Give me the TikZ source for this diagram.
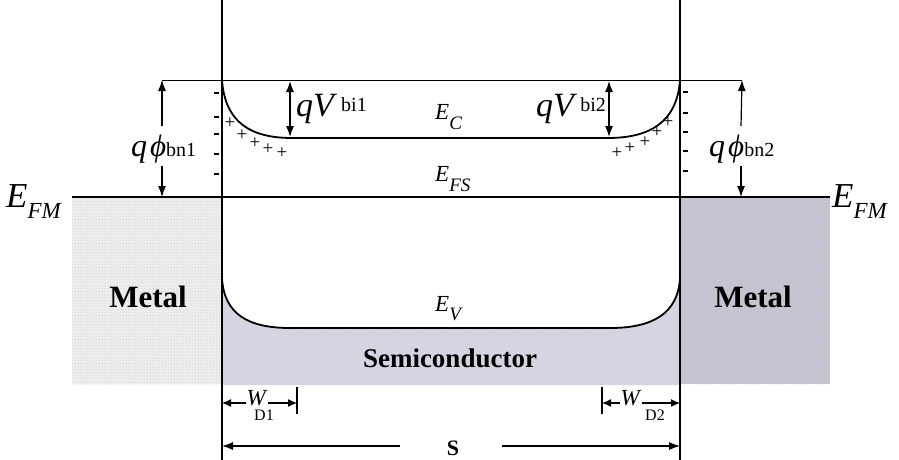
\documentclass[tikz,border=0pt]{standalone}
\usepackage{fontspec}
\setmainfont{Liberation Serif}
\usetikzlibrary{arrows.meta,patterns}
\newcommand{\fz}[1]{\fontsize{#1}{#1}\selectfont}
\definecolor{semic}{RGB}{212,212,228}
\definecolor{metr}{RGB}{196,196,212}
\definecolor{metl}{RGB}{238,238,238}
\begin{document}
\begin{tikzpicture}[x=1pt,y=-1pt,
  band/.style={line width=1.8pt},
  thin/.style={line width=0.8pt},
  arr/.style={line width=1.2pt,-{Latex[length=11pt,width=8pt]}},
  darr/.style={line width=1.2pt,{Latex[length=11pt,width=8pt]}-{Latex[length=11pt,width=8pt]}},
  warr/.style={line width=1.2pt,-{Latex[length=9pt,width=8pt]}},
  lbl/.style={inner sep=0pt},
  pm/.style={inner sep=0pt,font=\fz{19}}]
\useasboundingbox (0,0) rectangle (899,460);
% fills
\fill[metl] (72,197) rectangle (222,384);
\fill[pattern=dots,pattern color=gray!55] (72,197) rectangle (222,384);
\fill[metr] (680,197) rectangle (830,384);
\fill[pattern=crosshatch dots,pattern color=gray!45] (680,197) rectangle (830,384);
\fill[semic] (222,278) .. controls (224,314) and (248,328) .. (290,328) -- (610,328)
  .. controls (652,328) and (678,314) .. (680,278) -- (680,385) -- (222,385) -- cycle;
\fill[pattern=crosshatch dots,pattern color=gray!30] (222,278) .. controls (224,314) and (248,328) .. (290,328) -- (610,328)
  .. controls (652,328) and (678,314) .. (680,278) -- (680,385) -- (222,385) -- cycle;
% coordinates
\coordinate (L0) at (222,0); \coordinate (L1) at (222,460);
\coordinate (R0) at (680,0); \coordinate (R1) at (680,460);
\coordinate (topL) at (162,80); \coordinate (topR) at (742,80);
\coordinate (efmL) at (72,197); \coordinate (efmR) at (830,197);
% lines
\draw[thin] (topL) -- (topR);
\draw[band] (L0) -- (L1);
\draw[band] (R0) -- (R1);
\draw[band] (efmL) -- (efmR);
% E_C
\draw[band] (222,80) .. controls (225,122) and (250,138) .. (292,138) -- (608,138)
  .. controls (650,138) and (677,122) .. (680,80);
% E_V
\draw[band] (222,278) .. controls (224,314) and (248,328) .. (290,328) -- (610,328)
  .. controls (652,328) and (678,314) .. (680,278);
% band labels
\node[lbl,anchor=base west] (ec) at (435,119) {\fz{23}\textit{E}\raisebox{-10pt}{\fz{19}\textit{C}}};
\node[lbl,anchor=base west] (efs) at (435,181) {\fz{23}\textit{E}\raisebox{-10pt}{\fz{19}\textit{FS}}};
\node[lbl,anchor=base west] (ev) at (435,311) {\fz{23}\textit{E}\raisebox{-9pt}{\fz{19}\textit{V}}};
\node[lbl,anchor=base west] (efml) at (6,207) {\fz{35}\textit{E}\raisebox{-11pt}{\fz{23}\textit{FM}}};
\node[lbl,anchor=base west] (efmr) at (832,207) {\fz{35}\textit{E}\raisebox{-11pt}{\fz{23}\textit{FM}}};
% qVbi
\coordinate (vb1t) at (290,81); \coordinate (vb1b) at (290,137);
\coordinate (vb2t) at (609,81); \coordinate (vb2b) at (609,137);
\draw[darr] (vb1t) -- (vb1b);
\draw[darr] (vb2t) -- (vb2b);
\node[lbl,anchor=base west] (vbi1) at (296,116) {\fz{34}\textit{qV}\hspace{4pt}\raisebox{5pt}{\fz{20}bi1}};
\node[lbl,anchor=base east] (vbi2) at (606,116) {\fz{34}\textit{qV}\hspace{3pt}\raisebox{5pt}{\fz{20}bi2}};
% q phi bn
\node[lbl,anchor=base west] (phi1) at (131,156) {\fz{32}\textit{q}\hspace{3pt}\fz{31}\textit{ϕ}\fz{20}bn1};
\node[lbl,anchor=base west] (phi2) at (709,156) {\fz{32}\textit{q}\hspace{3pt}\fz{31}\textit{ϕ}\fz{20}bn2};
\coordinate (p1a) at (162,126); \coordinate (p1b) at (162,166); \coordinate (p1e) at (162,197);
\coordinate (p2a) at (741,126); \coordinate (p2b) at (741,166); \coordinate (p2e) at (741,197);
\draw[arr] (p1a) -- (topL);
\draw[arr] (p1b) -- (p1e);
\draw[arr] (p2a) -- (topR);
\draw[arr] (p2b) -- (p2e);
% charges
\foreach \y in {93,117,134,154,174} \draw[line width=1.8pt] (214,\y) -- (219,\y);
\foreach \y in {92,113,132,151,171} \draw[line width=1.8pt] (683,\y) -- (688,\y);
\foreach \x/\y [count=\i] in {230/123,242/135,255/143,268/149,282/153}
  \node[pm] (pl\i) at (\x,\y) {+};
\foreach \x/\y [count=\i] in {617/153,630/148,645/142,657/132,668/122}
  \node[pm] (pr\i) at (\x,\y) {+};
% region labels
\node[lbl] (metl) at (148,297) {\fz{31}\bfseries Metal};
\node[lbl] (metr) at (753,297) {\fz{31}\bfseries Metal};
\node[lbl] (semi) at (450,358) {\fz{27}\bfseries Semiconductor};
% W_D1
\node[lbl] (w1) at (257,398) {\fz{23}\textit{W}};
\node[lbl] (w1s) at (264,415) {\fz{16}D1};
\coordinate (w1l) at (222,403); \coordinate (w1r) at (297,403);
\draw[line width=1.2pt] (297,387) -- (297,414);
\draw[warr] (w1.west |- w1l) -- (w1l);
\draw[warr] (w1.east |- w1r) -- (w1r);
% W_D2
\node[lbl] (w2) at (631,398) {\fz{23}\textit{W}};
\node[lbl] (w2s) at (655,415) {\fz{16}D2};
\coordinate (w2l) at (602,403); \coordinate (w2r) at (680,403);
\draw[line width=1.2pt] (602,387) -- (602,414);
\draw[warr] (w2.west |- w2l) -- (w2l);
\draw[warr] (w2.east |- w2r) -- (w2r);
% S
\node[lbl] (S) at (453,448) {\fz{22}\bfseries S};
\coordinate (sl) at (222,446); \coordinate (sr) at (680,446);
\coordinate (sla) at (400,446); \coordinate (sra) at (502,446);
\draw[arr] (sla) -- (sl);
\draw[arr] (sra) -- (sr);
\end{tikzpicture}
\end{document}
